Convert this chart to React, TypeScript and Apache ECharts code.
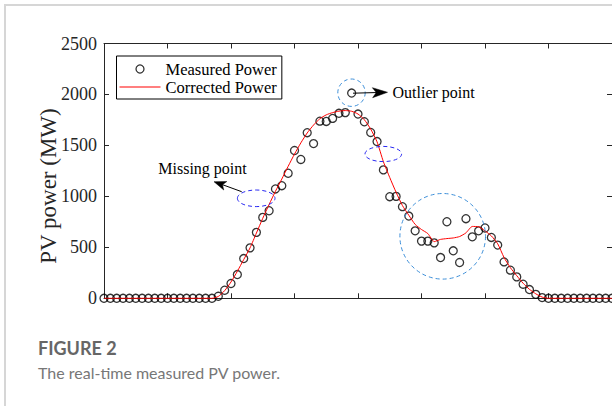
import React, { useEffect, useRef } from 'react';
import * as echarts from 'echarts';

// Measured PV power (MW), one value per sampling step (0..80)
const measuredPower = [
  0, 0, 0, 0, 0, 0, 0, 0, 0, 0, 0, 0, 0, 0, 0, 0, 0, 0,
  20, 79, 145, 233, 390, 495, 647, 794, 859, 1073, 1105, 1227,
  1450, 1362, 1625, 1518, 1738, 1735, 1765, 1815, 1822, 2014,
  1808, 1732, 1627, 1538, 1260, 997, 1000, 899, 807, 662,
  561, 561, 544, 400, 751, 466, 351, 781, 603, 662,
  690, 597, 522, 357, 276, 210, 138, 86, 39, 7,
  0, 0, 0, 0, 0, 0, 0, 0, 0, 0, 0,
];

// Corrected PV power (MW)
const correctedPower = [
  0, 0, 0, 0, 0, 0, 0, 0, 0, 0, 0, 0, 0, 0, 0, 0, 0, 0,
  18, 75, 160, 265, 380, 495, 640, 785, 920, 1050, 1170, 1295,
  1415, 1525, 1622, 1700, 1762, 1800, 1822, 1836, 1842, 1835,
  1808, 1752, 1660, 1535, 1340, 1185, 1040, 910, 815, 725,
  675, 635, 556, 578, 586, 592, 606, 642, 705, 702,
  662, 612, 535, 400, 300, 222, 148, 88, 44, 12,
  0, 0, 0, 0, 0, 0, 0, 0, 0, 0, 0,
];

const seriesNames = ['Measured Power', 'Corrected Power'];
const yAxisName = 'PV power (MW)';
const xMax = 80;
const xStep = 10;
const yMax = 2500;
const yStep = 500;

const SERIF = '"Liberation Serif", "Times New Roman", serif';
const SANS = 'Lato, "Open Sans", sans-serif';
const AXIS = '#262626';
const LIGHT_BLUE = '#3d8fd9';
const DARK_BLUE = '#2a2af2';

function arrowHead(tipX: number, tipY: number, fromX: number, fromY: number, len: number, half: number) {
  const dx = tipX - fromX;
  const dy = tipY - fromY;
  const d = Math.sqrt(dx * dx + dy * dy);
  const ux = dx / d;
  const uy = dy / d;
  const px = -uy;
  const py = ux;
  const bx = tipX - ux * len;
  const by = tipY - uy * len;
  const nx = tipX - ux * len * 0.75;
  const ny = tipY - uy * len * 0.75;
  return [
    [tipX, tipY],
    [bx + px * half, by + py * half],
    [nx, ny],
    [bx - px * half, by - py * half],
  ];
}

export default function App() {
  const ref = useRef<HTMLDivElement>(null);

  useEffect(() => {
    const chart = echarts.init(ref.current!, null, { renderer: 'svg' });

    const xAxisBase = {
      type: 'value',
      min: 0,
      max: xMax,
      interval: xStep,
      axisLine: { show: true, onZero: false, lineStyle: { color: AXIS, width: 1 } },
      axisTick: { show: true, inside: true, length: 5, lineStyle: { color: AXIS, width: 1 } },
      axisLabel: { show: false },
      splitLine: { show: false },
    };
    const yAxisBase = {
      type: 'value',
      min: 0,
      max: yMax,
      interval: yStep,
      axisLine: { show: true, onZero: false, lineStyle: { color: AXIS, width: 1 } },
      axisTick: { show: true, inside: true, length: 5, lineStyle: { color: AXIS, width: 1 } },
      splitLine: { show: false },
    };

    const outlierArrow = arrowHead(387.5, 92.3, 353, 93.2, 15, 5);
    const missingArrow = arrowHead(214, 181.7, 241.7, 191.7, 12, 4.5);

    chart.setOption({
      animation: false,
      backgroundColor: '#ffffff',
      grid: { left: 104, top: 43.5, right: -1.3, bottom: 107.7, containLabel: false },
      xAxis: [
        { ...xAxisBase, position: 'bottom' },
        { ...xAxisBase, position: 'top' },
      ],
      yAxis: [
        {
          ...yAxisBase,
          position: 'left',
          axisLabel: {
            show: true,
            fontFamily: SERIF,
            fontSize: 18,
            color: AXIS,
            margin: 7,
            formatter: (v: number) => String(v),
          },
        },
        { ...yAxisBase, position: 'right', axisLabel: { show: false } },
      ],
      legend: {
        orient: 'vertical',
        left: 116.5,
        top: 56,
        borderColor: '#000',
        borderWidth: 1,
        borderRadius: 0,
        backgroundColor: '#fff',
        padding: [4, 5, 3, 3],
        itemGap: 0,
        itemWidth: 41,
        itemHeight: 8,
        selectedMode: false,
        textStyle: { fontFamily: SERIF, fontSize: 16.5, color: '#000', lineHeight: 18, height: 18 },
        data: [
          {
            name: seriesNames[0],
            icon: 'circle',
            itemStyle: { color: 'rgba(0,0,0,0)', borderColor: '#000', borderWidth: 1.3 },
          },
          {
            name: seriesNames[1],
            icon: 'path://M0,0 L41,0 L41,1 L0,1 Z',
            itemStyle: { color: '#ff0000', borderWidth: 0 },
          },
        ],
      },
      series: [
        {
          name: seriesNames[0],
          type: 'scatter',
          xAxisIndex: 0,
          yAxisIndex: 0,
          data: measuredPower.map((v, i) => [i, v]),
          symbol: 'circle',
          symbolSize: 8,
          clip: false,
          itemStyle: { color: 'rgba(0,0,0,0)', borderColor: '#000', borderWidth: 1.3 },
          z: 2,
        },
        {
          name: seriesNames[1],
          type: 'line',
          xAxisIndex: 0,
          yAxisIndex: 0,
          data: correctedPower.map((v, i) => [i, v]),
          showSymbol: false,
          symbol: 'none',
          smooth: 0.2,
          clip: false,
          lineStyle: { color: '#ff0000', width: 1 },
          itemStyle: { color: '#ff0000' },
          z: 3,
        },
      ],
      graphic: [
        // card border
        {
          type: 'rect',
          shape: { x: 5, y: 5, width: 700, height: 500 },
          style: { fill: 'none', stroke: '#d6d6d6', lineWidth: 2 },
          silent: true,
          z: 0,
        },
        // y axis title
        {
          type: 'text',
          x: 48,
          y: 186,
          rotation: Math.PI / 2,
          style: {
            text: yAxisName,
            fontFamily: SERIF,
            fontSize: 23,
            fill: AXIS,
            align: 'center',
            verticalAlign: 'middle',
          },
          z: 10,
        },
        // outlier annotation
        {
          type: 'circle',
          shape: { cx: 351.5, cy: 92.7, r: 13.7 },
          style: { fill: 'none', stroke: LIGHT_BLUE, lineWidth: 1, lineDash: [4, 3] },
          z: 10,
        },
        {
          type: 'line',
          shape: { x1: 353, y1: 93.2, x2: 378, y2: 92.5 },
          style: { stroke: '#000', lineWidth: 1 },
          z: 10,
        },
        {
          type: 'polygon',
          shape: { points: outlierArrow },
          style: { fill: '#000', stroke: '#000', lineWidth: 0.5 },
          z: 10,
        },
        {
          type: 'text',
          x: 392.5,
          y: 92.5,
          style: { text: 'Outlier point', fontFamily: SERIF, fontSize: 16, fill: '#000', verticalAlign: 'middle' },
          z: 10,
        },
        // missing point annotations
        {
          type: 'ellipse',
          shape: { cx: 256.2, cy: 198.3, rx: 18.8, ry: 8.3 },
          style: { fill: 'none', stroke: DARK_BLUE, lineWidth: 1, lineDash: [4, 3] },
          z: 10,
        },
        {
          type: 'ellipse',
          shape: { cx: 383.3, cy: 154, rx: 18.3, ry: 7.6 },
          style: { fill: 'none', stroke: DARK_BLUE, lineWidth: 1, lineDash: [4, 3] },
          z: 10,
        },
        {
          type: 'line',
          shape: { x1: 241.7, y1: 191.7, x2: 222, y2: 184.5 },
          style: { stroke: '#000', lineWidth: 1 },
          z: 10,
        },
        {
          type: 'polygon',
          shape: { points: missingArrow },
          style: { fill: '#000', stroke: '#000', lineWidth: 0.5 },
          z: 10,
        },
        {
          type: 'text',
          x: 158.3,
          y: 168.5,
          style: { text: 'Missing point', fontFamily: SERIF, fontSize: 16, fill: '#000', verticalAlign: 'middle' },
          z: 10,
        },
        // dip region circle
        {
          type: 'circle',
          shape: { cx: 442.7, cy: 236.3, r: 42.8 },
          style: { fill: 'none', stroke: LIGHT_BLUE, lineWidth: 1, lineDash: [4, 3] },
          z: 10,
        },
        // caption
        {
          type: 'text',
          x: 38,
          y: 348,
          style: { text: 'FIGURE 2', fontFamily: SANS, fontWeight: 'bold', fontSize: 18, fill: '#666666', verticalAlign: 'middle' },
          z: 10,
        },
        {
          type: 'text',
          x: 38,
          y: 372,
          style: { text: 'The real-time measured PV power.', fontFamily: SANS, fontSize: 16, fill: '#777777', verticalAlign: 'middle' },
          z: 10,
        },
      ],
    });

    return () => chart.dispose();
  }, []);

  return (
    <div
      ref={ref}
      style={{ position: 'fixed', left: 0, top: 0, width: 612, height: 406, background: '#fff' }}
    />
  );
}
